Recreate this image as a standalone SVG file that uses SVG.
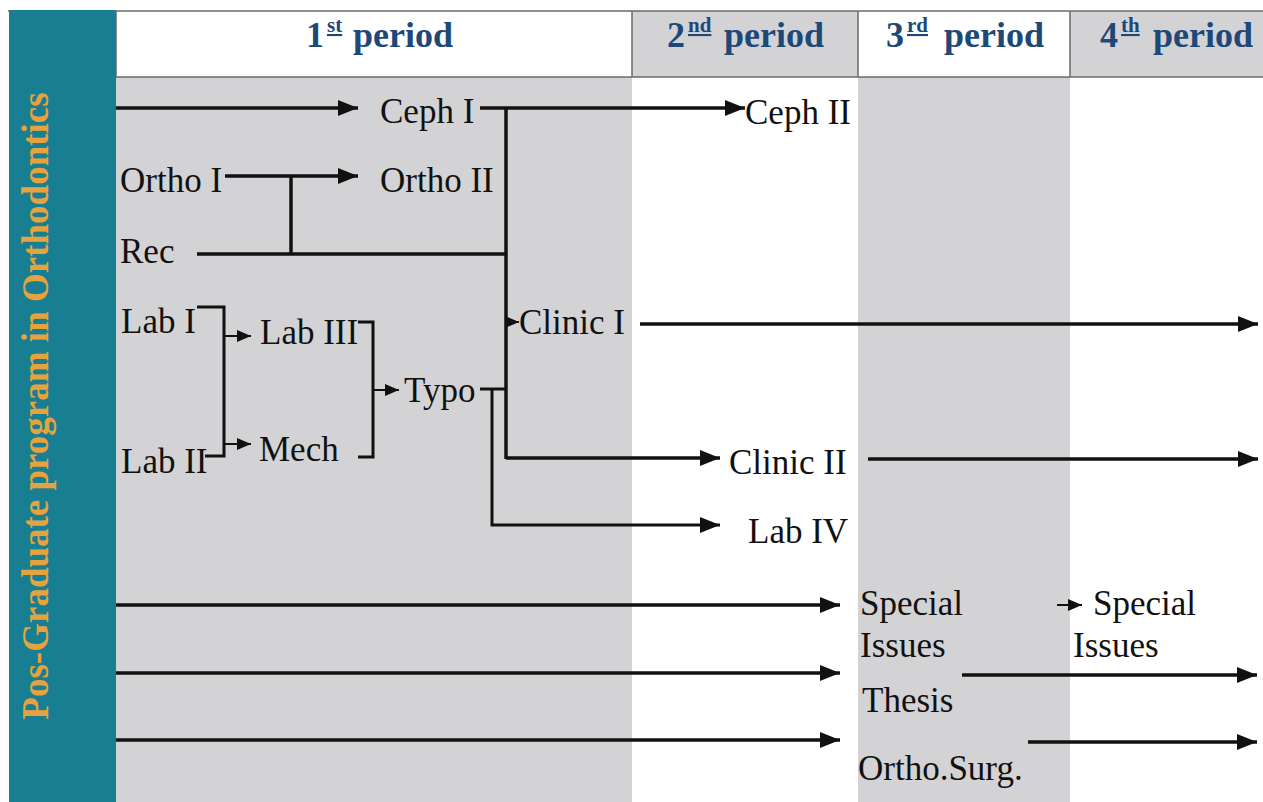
<svg xmlns="http://www.w3.org/2000/svg" width="1263" height="802" viewBox="0 0 1263 802">
<style>
.t{font-family:"Liberation Serif","Times New Roman",serif;font-size:35px;fill:#111}
.h{font-family:"Liberation Serif","Times New Roman",serif;font-size:36px;font-weight:bold;fill:#1e4877}
.hs{font-family:"Liberation Serif","Times New Roman",serif;font-size:21px;font-weight:bold;fill:#1e4877;text-decoration:underline}
.c{fill:none;stroke:#111;stroke-width:3.5}
.b{fill:none;stroke:#111;stroke-width:3}
.s{fill:none;stroke:#111;stroke-width:2}
.gray{fill:#d3d3d5}
.grid{stroke:#6b6b6b;stroke-width:1.5;fill:none}
</style>
<defs>
<marker id="big" markerUnits="userSpaceOnUse" markerWidth="22" markerHeight="18" refX="20" refY="8" orient="auto">
<path d="M0,0 L20,8 L0,16 z" fill="#111"/>
</marker>
<marker id="sm" markerUnits="userSpaceOnUse" markerWidth="16" markerHeight="14" refX="14" refY="6" orient="auto">
<path d="M0,0 L14,6 L0,12 z" fill="#111"/>
</marker>
</defs>
<rect width="1263" height="802" fill="#ffffff"/>
<g id="background">
<rect class="gray" x="116" y="77" width="516" height="725"/>
<rect class="gray" x="858" y="77" width="212" height="725"/>
<rect class="gray" x="632" y="11" width="226" height="66"/>
<rect class="gray" x="1070" y="11" width="193" height="66"/>
<path class="grid" d="M8,11 H1263 M116,77 H1263 M116,11 V77 M632,11 V77 M858,11 V77 M1070,11 V77"/>
</g>
<g id="title-bar">
<rect x="9" y="10" width="107" height="792" fill="#187f93"/>
<text transform="translate(48,406) rotate(-90)" text-anchor="middle" font-family="Liberation Serif, Times New Roman, serif" font-size="37" font-weight="bold" fill="#e5a23e">Pos-Graduate program in Orthodontics</text>
</g>
<g id="headers">
<g id="h1"><text class="h" x="306" y="47">1</text><text class="hs" x="327" y="32">st</text><text class="h" x="353" y="47">period</text></g>
<g id="h2"><text class="h" x="667" y="47">2</text><text class="hs" x="688" y="32">nd</text><text class="h" x="724" y="47">period</text></g>
<g id="h3"><text class="h" x="886" y="47">3</text><text class="hs" x="907" y="32">rd</text><text class="h" x="944" y="47">period</text></g>
<g id="h4"><text class="h" x="1100" y="47">4</text><text class="hs" x="1121" y="32">th</text><text class="h" x="1153" y="47">period</text></g>
</g>
<g id="connectors">
<path class="c" d="M116,108 H358" marker-end="url(#big)"/>
<path class="c" d="M480,108 H745" marker-end="url(#big)"/>
<path class="c" d="M506,108 V459"/>
<path class="c" d="M225,176 H358" marker-end="url(#big)"/>
<path class="c" d="M291,176 V254"/>
<path class="c" d="M197,254 H506"/>
<path class="b" d="M197,307 H224 V456 H205"/>
<path class="s" d="M224,336 H251" marker-end="url(#sm)"/>
<path class="s" d="M224,444 H251" marker-end="url(#sm)"/>
<path class="b" d="M358,322 H373 V457 H358"/>
<path class="s" d="M373,390 H399" marker-end="url(#sm)"/>
<path class="b" d="M480,389 H506"/>
<path class="b" d="M492,389 V525 H720" marker-end="url(#big)"/>
<path class="s" d="M506,322 H519" marker-end="url(#sm)"/>
<path class="c" d="M506,458 H720" marker-end="url(#big)"/>
<path class="c" d="M640,324 H1258" marker-end="url(#big)"/>
<path class="c" d="M868,459 H1258" marker-end="url(#big)"/>
<path class="c" d="M116,605 H840" marker-end="url(#big)"/>
<path class="c" d="M116,673 H840" marker-end="url(#big)"/>
<path class="c" d="M116,740 H840" marker-end="url(#big)"/>
<path class="s" d="M1057,605 H1082" marker-end="url(#sm)"/>
<path class="c" d="M962,675 H1257" marker-end="url(#big)"/>
<path class="c" d="M1028,742 H1257" marker-end="url(#big)"/>
</g>
<g id="ceph1"><text class="t" x="380" y="123">Ceph I</text></g>
<g id="ortho1"><text class="t" x="120" y="192">Ortho I</text></g>
<g id="ortho2"><text class="t" x="380" y="192">Ortho II</text></g>
<g id="rec"><text class="t" x="120" y="263">Rec</text></g>
<g id="lab1"><text class="t" x="121" y="333">Lab I</text></g>
<g id="lab2"><text class="t" x="121" y="473">Lab II</text></g>
<g id="lab3"><text class="t" x="260" y="344">Lab III</text></g>
<g id="mech"><text class="t" x="259" y="461">Mech</text></g>
<g id="typo"><text class="t" x="404" y="402">Typo</text></g>
<g id="clinic1"><text class="t" x="519" y="334">Clinic I</text></g>
<g id="ceph2"><text class="t" x="745" y="124">Ceph II</text></g>
<g id="clinic2"><text class="t" x="729" y="474">Clinic II</text></g>
<g id="lab4"><text class="t" x="748" y="543">Lab IV</text></g>
<g id="special3"><text class="t" x="860" y="615">Special</text><text class="t" x="860" y="657">Issues</text></g>
<g id="thesis"><text class="t" x="862" y="712">Thesis</text></g>
<g id="orthosurg"><text class="t" x="858" y="780">Ortho.Surg.</text></g>
<g id="special4"><text class="t" x="1093" y="615">Special</text><text class="t" x="1073" y="657">Issues</text></g>
</svg>
